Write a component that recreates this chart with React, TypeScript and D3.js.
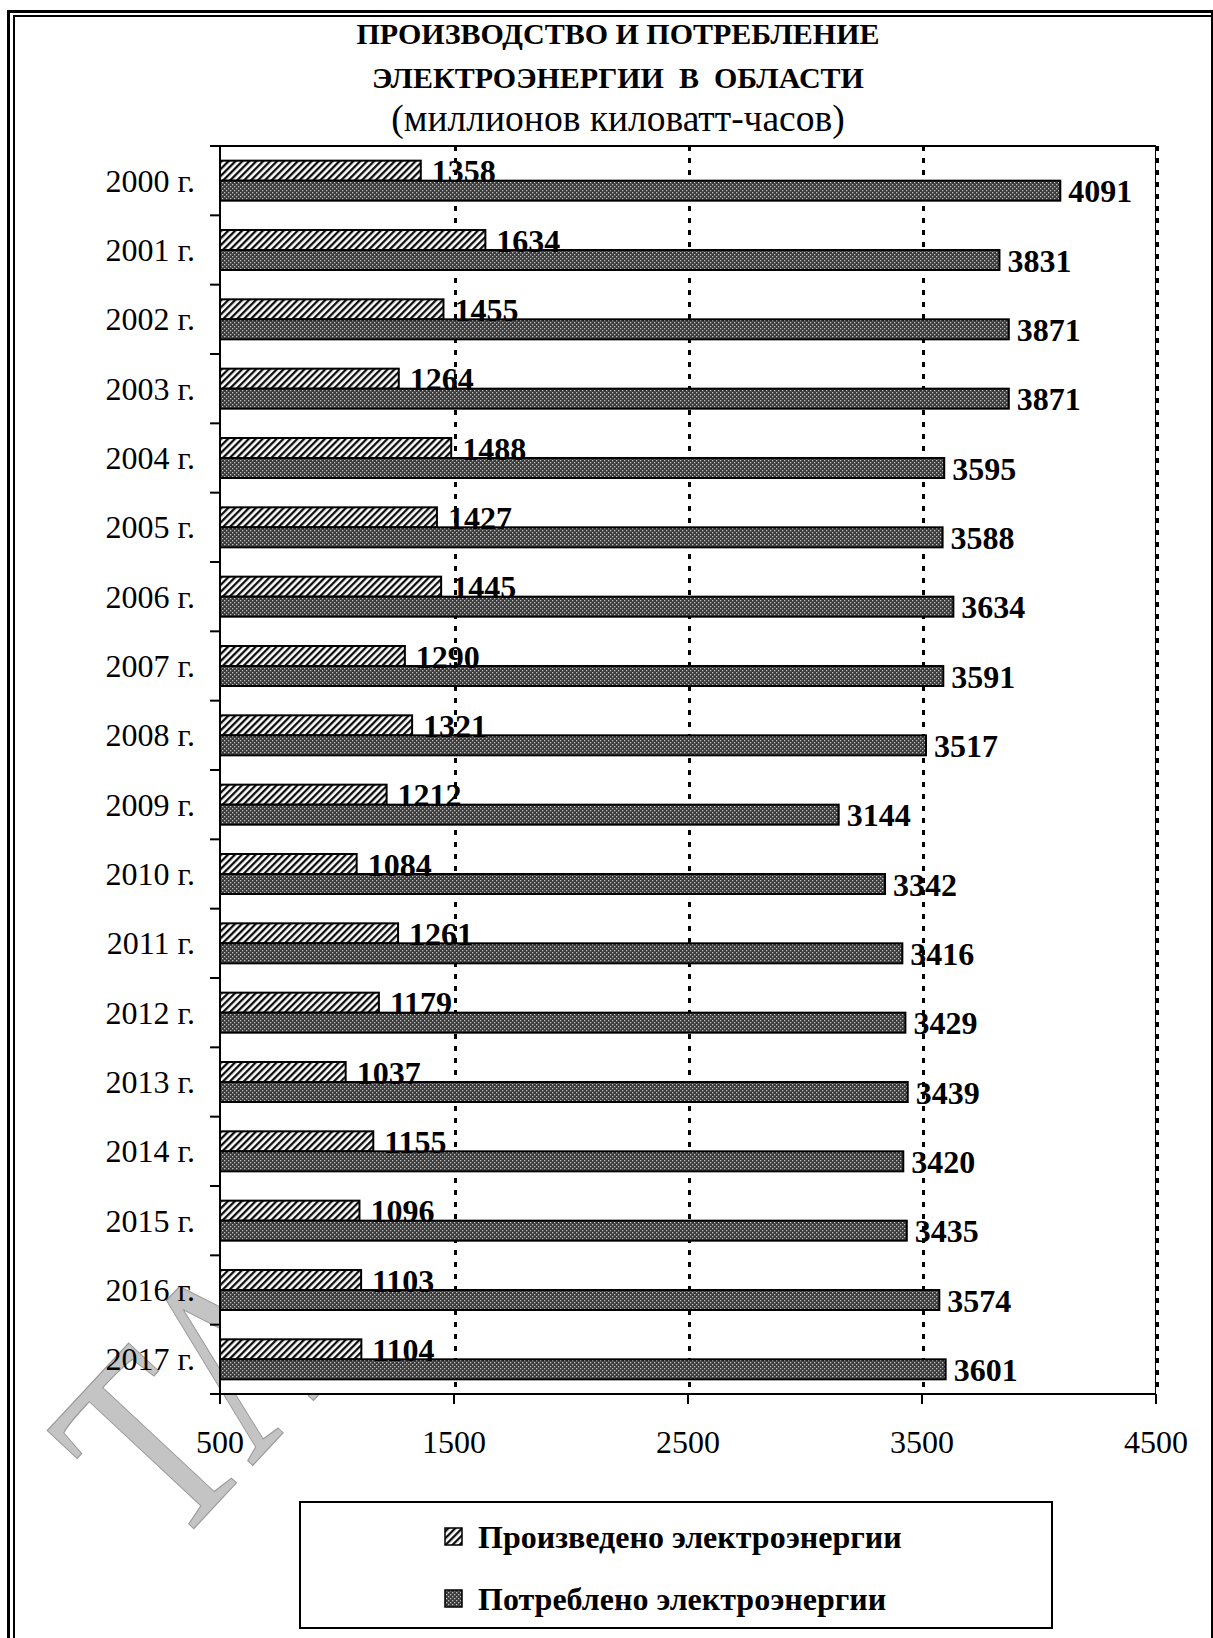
import React from "react";
import * as d3 from "d3";

const categories = ["2000 г.", "2001 г.", "2002 г.", "2003 г.", "2004 г.", "2005 г.", "2006 г.", "2007 г.", "2008 г.", "2009 г.", "2010 г.", "2011 г.", "2012 г.", "2013 г.", "2014 г.", "2015 г.", "2016 г.", "2017 г."];
const produced = [1358, 1634, 1455, 1264, 1488, 1427, 1445, 1290, 1321, 1212, 1084, 1261, 1179, 1037, 1155, 1096, 1103, 1104];
const consumed = [4091, 3831, 3871, 3871, 3595, 3588, 3634, 3591, 3517, 3144, 3342, 3416, 3429, 3439, 3420, 3435, 3574, 3601];
const xTicks = [500, 1500, 2500, 3500, 4500];
const titleLines = ["ПРОИЗВОДСТВО И ПОТРЕБЛЕНИЕ", "ЭЛЕКТРОЭНЕРГИИ  В  ОБЛАСТИ"];
const subtitle = "(миллионов киловатт-часов)";
const seriesNames = ["Произведено электроэнергии", "Потреблено электроэнергии"];
const watermark = "ТА";

const W = 1213;
const H = 1638;
const FONT = "'Liberation Serif', 'Times New Roman', serif";

export default function App() {
  const left = 220, right = 1156, top = 146, bottom = 1394;
  const x = d3.scaleLinear().domain([500, 4500]).range([left, right]);
  const y = d3.scaleBand<string>().domain(categories).range([top, bottom]);
  const bw = y.bandwidth();
  const barH = 20;
  const off = (bw - 2 * barH) / 2;

  return (
    <svg width={W} height={H} style={{ position: "absolute", left: 0, top: 0, background: "#fff" }} fontFamily={FONT}>
      <defs>
        <pattern id="hatch" patternUnits="userSpaceOnUse" width="4.9" height="4.9" patternTransform="rotate(45)">
          <rect width="4.9" height="4.9" fill="#fff" />
          <line x1="1.2" y1="0" x2="1.2" y2="4.9" stroke="#000" strokeWidth="2.2" />
        </pattern>
        <pattern id="dots" patternUnits="userSpaceOnUse" width="4" height="4">
          <rect width="4" height="4" fill="#3a3a3a" />
          <rect x="0" y="0" width="1.3" height="1.3" fill="#c0c0c0" />
          <rect x="2" y="2" width="1.3" height="1.3" fill="#c0c0c0" />
        </pattern>
        <clipPath id="frameClip">
          <rect x={16} y={17} width={W - 16} height={H - 17} />
        </clipPath>
      </defs>

      {/* outer frame */}
      <line x1={8.5} y1={10} x2={8.5} y2={H} stroke="#000" strokeWidth={3} />
      <line x1={14} y1={16} x2={14} y2={H} stroke="#000" strokeWidth={2} />
      <line x1={7} y1={11.5} x2={W} y2={11.5} stroke="#000" strokeWidth={3} />
      <line x1={13} y1={16} x2={W} y2={16} stroke="#000" strokeWidth={2} />
      <line x1={1212} y1={10} x2={1212} y2={H} stroke="#000" strokeWidth={2} />

      {/* watermark */}
      <g clipPath="url(#frameClip)">
        <text transform="translate(172,1552) rotate(-47) scale(0.78,1)" fontSize={266} fill="#c4c4c4" stroke="#9a9a9a" strokeWidth={1.2}>{watermark}</text>
      </g>

      {/* title */}
      <g textAnchor="middle" fill="#000">
        <text x={618} y={44} fontSize={30} fontWeight="bold">{titleLines[0]}</text>
        <text x={618} y={88} fontSize={30} fontWeight="bold" style={{ whiteSpace: "pre" }}>{titleLines[1]}</text>
        <text x={618} y={131} fontSize={37.5}>{subtitle}</text>
      </g>

      {/* plot area */}
      <rect x={left} y={top} width={right - left} height={bottom - top} fill="#fff" />
      {xTicks.slice(1).map((t) => (
        <line key={"g" + t} x1={x(t) + 1.5} x2={x(t) + 1.5} y1={top} y2={bottom} stroke="#000" strokeWidth={3} strokeDasharray="5,7" />
      ))}

      {categories.map((c, i) => {
        const y0 = (y(c) as number) + off;
        return (
          <g key={c}>
            <rect x={x(500)} y={y0} width={x(produced[i]) - x(500)} height={barH} fill="url(#hatch)" stroke="#000" strokeWidth={2} />
            <rect x={x(500)} y={y0 + barH} width={x(consumed[i]) - x(500)} height={barH} fill="url(#dots)" stroke="#000" strokeWidth={2} />
            <text x={x(produced[i]) + 11} y={y0 + barH + 1.5} fontSize={32} fontWeight="bold">{produced[i]}</text>
            <text x={x(consumed[i]) + 8} y={y0 + 2 * barH + 1.5} fontSize={32} fontWeight="bold">{consumed[i]}</text>
          </g>
        );
      })}

      {/* plot border and axes */}
      <line x1={left} x2={right} y1={top} y2={top} stroke="#000" strokeWidth={2} />
      <line x1={right - 0.5} x2={right - 0.5} y1={top} y2={bottom} stroke="#000" strokeWidth={1} />
      <line x1={left} x2={left} y1={top - 1} y2={bottom + 10} stroke="#000" strokeWidth={2} />
      <line x1={left - 10} x2={right} y1={bottom} y2={bottom} stroke="#000" strokeWidth={2} />
      {categories.map((c) => (
        <line key={"t" + c} x1={left - 10} x2={left} y1={y(c) as number} y2={y(c) as number} stroke="#000" strokeWidth={2} />
      ))}
      {xTicks.map((t) => (
        <g key={"xt" + t}>
          <line x1={x(t)} x2={x(t)} y1={bottom} y2={bottom + 10} stroke="#000" strokeWidth={2} />
          <text x={x(t)} y={1453} fontSize={32} textAnchor="middle">{t}</text>
        </g>
      ))}
      {categories.map((c) => (
        <text key={"l" + c} x={195} y={(y(c) as number) + bw / 2 + 11} fontSize={32} textAnchor="end">{c}</text>
      ))}

      {/* legend */}
      <rect x={300} y={1502} width={752} height={126} fill="#fff" stroke="#000" strokeWidth={2} />
      <rect x={445} y={1528} width={17} height={17} fill="url(#hatch)" stroke="#000" strokeWidth={1.5} />
      <text x={478} y={1548} fontSize={32} fontWeight="bold">{seriesNames[0]}</text>
      <rect x={445} y={1590} width={17} height={17} fill="url(#dots)" stroke="#000" strokeWidth={1.5} />
      <text x={478} y={1610} fontSize={32} fontWeight="bold">{seriesNames[1]}</text>
    </svg>
  );
}
